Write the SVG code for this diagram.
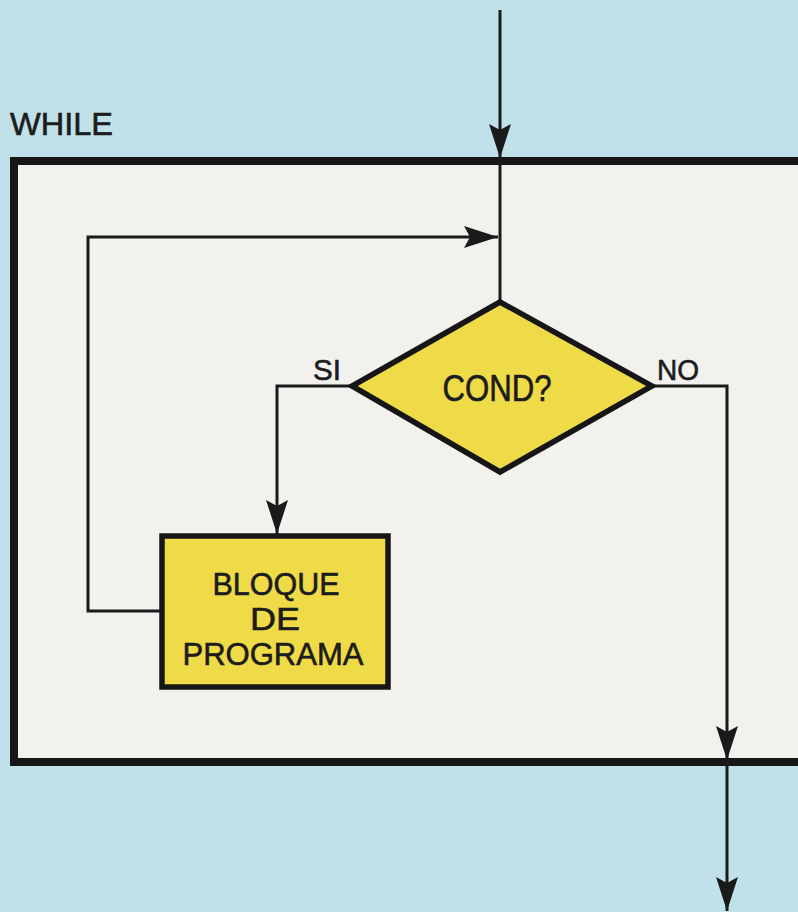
<svg xmlns="http://www.w3.org/2000/svg" width="798" height="912" viewBox="0 0 798 912">
<style>
  .lbl { font-family: "Liberation Sans", Arial, sans-serif; fill: #1c1c1c; stroke: #1c1c1c; stroke-width: 0.6; }
  .conn { fill: none; stroke: #1a1a1a; stroke-width: 3; }
  .shape { fill: #efdb48; stroke: #161616; stroke-width: 5.5; stroke-linejoin: miter; }
</style>
<defs>
  <marker id="arr" markerUnits="userSpaceOnUse" markerWidth="36" markerHeight="24" refX="34" refY="12" orient="auto">
    <path d="M0,1 L34,12 L0,23 L6,12 z" fill="#1a1a1a"/>
  </marker>
</defs>
<rect x="0" y="0" width="798" height="912" fill="#c0e1e9"/>
<g id="while-frame">
  <rect x="14" y="161" width="790" height="601" fill="#f2f1ee" stroke="#161616" stroke-width="8"/>
  <text class="lbl" x="10" y="135" font-size="32" textLength="103" lengthAdjust="spacingAndGlyphs">WHILE</text>
</g>
<g id="connectors">
  <path class="conn" d="M500,10 V158" marker-end="url(#arr)"/>
  <path class="conn" d="M500,158 V302"/>
  <path class="conn" d="M162,611 H88 V237 H498" marker-end="url(#arr)"/>
  <path class="conn" d="M352,386 H277 V534" marker-end="url(#arr)"/>
  <path class="conn" d="M652,386 H727 V760" marker-end="url(#arr)"/>
  <path class="conn" d="M727,760 V911" marker-end="url(#arr)"/>
  <text class="lbl" x="313" y="380" font-size="30" textLength="28" lengthAdjust="spacingAndGlyphs">SI</text>
  <text class="lbl" x="657" y="380" font-size="30" textLength="42" lengthAdjust="spacingAndGlyphs">NO</text>
</g>
<g id="cond">
  <polygon class="shape" points="500,302 652,386 500,472 352,386"/>
  <text class="lbl" x="497" y="401" font-size="36" text-anchor="middle" textLength="109" lengthAdjust="spacingAndGlyphs">COND?</text>
</g>
<g id="bloque">
  <rect class="shape" x="162" y="536" width="226" height="151"/>
  <text class="lbl" x="276" y="595" font-size="32" text-anchor="middle" textLength="127" lengthAdjust="spacingAndGlyphs">BLOQUE</text>
  <text class="lbl" x="275" y="630" font-size="32" text-anchor="middle" textLength="50" lengthAdjust="spacingAndGlyphs">DE</text>
  <text class="lbl" x="273" y="665" font-size="32" text-anchor="middle" textLength="181" lengthAdjust="spacingAndGlyphs">PROGRAMA</text>
</g>
</svg>
